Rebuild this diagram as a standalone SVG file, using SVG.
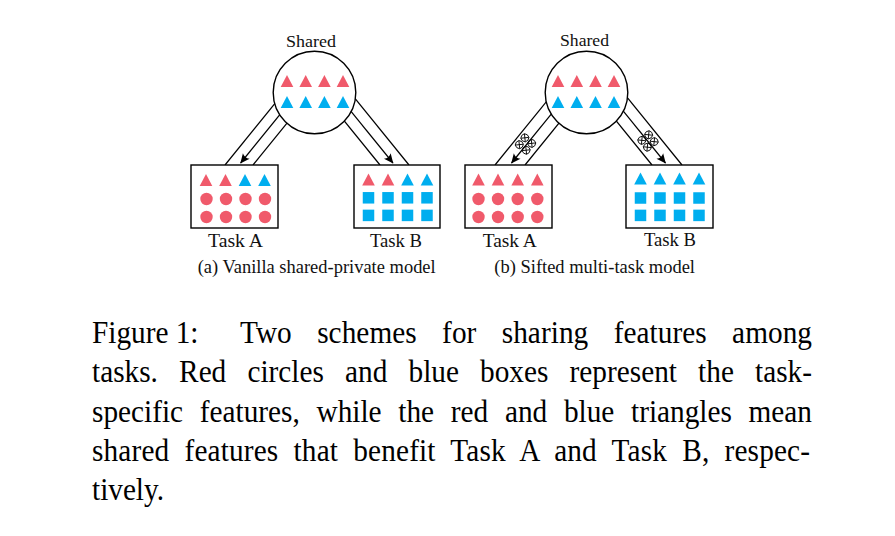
<svg xmlns="http://www.w3.org/2000/svg" xmlns:xlink="http://www.w3.org/1999/xlink" width="895" height="536" viewBox="0 0 895 536">
<style>
.lbl{font-family:"Liberation Serif","DejaVu Serif",serif;fill:#111}
.cap{font-family:"Liberation Serif","Times New Roman",serif;font-size:30.5px;fill:#000}
.node{fill:#fff;stroke:#000;stroke-width:1.4}
.wall{stroke:#000;stroke-width:1.2;fill:none}
.arr{stroke:#000;stroke-width:1.2;fill:none;marker-end:url(#ah)}
.r{fill:#F05A6B}
.b{fill:#00AEEF}
</style>
<defs>
<marker id="ah" viewBox="-10 -5 11 10" refX="0" refY="0" markerWidth="11" markerHeight="10" orient="auto" markerUnits="userSpaceOnUse">
<path d="M0.5,0 L-9,-4.3 Q-6,0 -9,4.3 Z" fill="#000"/>
</marker>
<path id="tri" d="M0,-6 L6.3,6 L-6.3,6 Z"/>
<rect id="sq" x="-5.75" y="-5.75" width="11.5" height="11.5"/>
<circle id="dot" r="6.2"/>
<g id="ox">
<circle r="3.9" fill="none" stroke="#000" stroke-width="0.85"/>
<path d="M-2.8,-2.8 L2.8,2.8 M-2.8,2.8 L2.8,-2.8" fill="none" stroke="#000" stroke-width="0.85"/>
</g>
<g id="sift">
<use xlink:href="#ox" x="-4.4" y="-4.4"/>
<use xlink:href="#ox" x="4.4" y="-4.4"/>
<use xlink:href="#ox" x="-4.4" y="4.4"/>
<use xlink:href="#ox" x="4.4" y="4.4"/>
</g>
</defs>

<g id="connectors">
<!-- (a) left -->
<line class="wall" x1="225" y1="165" x2="281.7" y2="95.1"/>
<line class="wall" x1="253" y1="165" x2="309.7" y2="95.1"/>
<line class="arr" x1="289.4" y1="102.8" x2="240.6" y2="163"/>
<!-- (a) right -->
<line class="wall" x1="380" y1="165" x2="323.3" y2="95.1"/>
<line class="wall" x1="409" y1="165" x2="352.3" y2="95.1"/>
<line class="arr" x1="344.1" y1="102.8" x2="393" y2="163"/>
<!-- (b) left -->
<line class="wall" x1="495" y1="165" x2="551.7" y2="95.1"/>
<line class="wall" x1="525" y1="165" x2="581.7" y2="95.1"/>
<line class="arr" x1="560.4" y1="102.8" x2="511.5" y2="163"/>
<use xlink:href="#sift" transform="translate(525.5,144) rotate(-51)"/>
<!-- (b) right -->
<line class="wall" x1="652" y1="165" x2="595.3" y2="95.1"/>
<line class="wall" x1="682" y1="165" x2="625.3" y2="95.1"/>
<line class="arr" x1="616.6" y1="102.8" x2="665.5" y2="163"/>
<use xlink:href="#sift" transform="translate(648,141) rotate(51)"/>
</g>

<g id="shared-a">
<circle class="node" cx="314.5" cy="92.5" r="41.3"/>
<use xlink:href="#tri" class="r" x="287" y="81"/>
<use xlink:href="#tri" class="r" x="305.7" y="81"/>
<use xlink:href="#tri" class="r" x="324.4" y="81"/>
<use xlink:href="#tri" class="r" x="343" y="81"/>
<use xlink:href="#tri" class="b" x="287" y="102"/>
<use xlink:href="#tri" class="b" x="305.7" y="102"/>
<use xlink:href="#tri" class="b" x="324.4" y="102"/>
<use xlink:href="#tri" class="b" x="343" y="102"/>
<text class="lbl" x="311" y="46.5" font-size="17" text-anchor="middle" textLength="50" lengthAdjust="spacingAndGlyphs">Shared</text>
</g>

<g id="taskA-a">
<rect class="node" x="191" y="165" width="87" height="63"/>
<use xlink:href="#tri" class="r" x="206" y="180"/>
<use xlink:href="#tri" class="r" x="225.5" y="180"/>
<use xlink:href="#tri" class="b" x="245" y="180"/>
<use xlink:href="#tri" class="b" x="264.5" y="180"/>
<use xlink:href="#dot" class="r" x="206.5" y="199"/>
<use xlink:href="#dot" class="r" x="226" y="199"/>
<use xlink:href="#dot" class="r" x="245.5" y="199"/>
<use xlink:href="#dot" class="r" x="265" y="199"/>
<use xlink:href="#dot" class="r" x="206.5" y="217"/>
<use xlink:href="#dot" class="r" x="226" y="217"/>
<use xlink:href="#dot" class="r" x="245.5" y="217"/>
<use xlink:href="#dot" class="r" x="265" y="217"/>
<text class="lbl" x="235.5" y="246.7" font-size="18.5" text-anchor="middle" textLength="55" lengthAdjust="spacingAndGlyphs">Task A</text>
</g>

<g id="taskB-a">
<rect class="node" x="354" y="165" width="86" height="63"/>
<use xlink:href="#tri" class="r" x="368.5" y="179.5"/>
<use xlink:href="#tri" class="r" x="388" y="179.5"/>
<use xlink:href="#tri" class="b" x="407.5" y="179.5"/>
<use xlink:href="#tri" class="b" x="427" y="179.5"/>
<use xlink:href="#sq" class="b" x="368.5" y="197.8"/>
<use xlink:href="#sq" class="b" x="388" y="197.8"/>
<use xlink:href="#sq" class="b" x="407.5" y="197.8"/>
<use xlink:href="#sq" class="b" x="427" y="197.8"/>
<use xlink:href="#sq" class="b" x="368.5" y="215.4"/>
<use xlink:href="#sq" class="b" x="388" y="215.4"/>
<use xlink:href="#sq" class="b" x="407.5" y="215.4"/>
<use xlink:href="#sq" class="b" x="427" y="215.4"/>
<text class="lbl" x="396" y="246.7" font-size="18.5" text-anchor="middle" textLength="52" lengthAdjust="spacingAndGlyphs">Task B</text>
</g>

<g id="shared-b">
<circle class="node" cx="586.5" cy="92.5" r="41.3"/>
<use xlink:href="#tri" class="r" x="558" y="81"/>
<use xlink:href="#tri" class="r" x="576.8" y="81"/>
<use xlink:href="#tri" class="r" x="595.5" y="81"/>
<use xlink:href="#tri" class="r" x="614" y="81"/>
<use xlink:href="#tri" class="b" x="558" y="102"/>
<use xlink:href="#tri" class="b" x="576.8" y="102"/>
<use xlink:href="#tri" class="b" x="595.5" y="102"/>
<use xlink:href="#tri" class="b" x="614" y="102"/>
<text class="lbl" x="584.5" y="46" font-size="17" text-anchor="middle" textLength="49" lengthAdjust="spacingAndGlyphs">Shared</text>
</g>

<g id="taskA-b">
<rect class="node" x="465" y="165" width="87" height="63"/>
<use xlink:href="#tri" class="r" x="478.5" y="179.5"/>
<use xlink:href="#tri" class="r" x="498" y="179.5"/>
<use xlink:href="#tri" class="r" x="517.7" y="179.5"/>
<use xlink:href="#tri" class="r" x="537.3" y="179.5"/>
<use xlink:href="#dot" class="r" x="478.5" y="199"/>
<use xlink:href="#dot" class="r" x="498" y="199"/>
<use xlink:href="#dot" class="r" x="517.7" y="199"/>
<use xlink:href="#dot" class="r" x="537.3" y="199"/>
<use xlink:href="#dot" class="r" x="478.5" y="217"/>
<use xlink:href="#dot" class="r" x="498" y="217"/>
<use xlink:href="#dot" class="r" x="517.7" y="217"/>
<use xlink:href="#dot" class="r" x="537.3" y="217"/>
<text class="lbl" x="509.7" y="246.7" font-size="18.5" text-anchor="middle" textLength="54" lengthAdjust="spacingAndGlyphs">Task A</text>
</g>

<g id="taskB-b">
<rect class="node" x="626" y="165" width="87" height="63"/>
<use xlink:href="#tri" class="b" x="640.5" y="178.5"/>
<use xlink:href="#tri" class="b" x="660" y="178.5"/>
<use xlink:href="#tri" class="b" x="679.5" y="178.5"/>
<use xlink:href="#tri" class="b" x="699" y="178.5"/>
<use xlink:href="#sq" class="b" x="640.5" y="198"/>
<use xlink:href="#sq" class="b" x="660" y="198"/>
<use xlink:href="#sq" class="b" x="679.5" y="198"/>
<use xlink:href="#sq" class="b" x="699" y="198"/>
<use xlink:href="#sq" class="b" x="640.5" y="215.4"/>
<use xlink:href="#sq" class="b" x="660" y="215.4"/>
<use xlink:href="#sq" class="b" x="679.5" y="215.4"/>
<use xlink:href="#sq" class="b" x="699" y="215.4"/>
<text class="lbl" x="670" y="245.5" font-size="18.5" text-anchor="middle" textLength="52" lengthAdjust="spacingAndGlyphs">Task B</text>
</g>

<g id="subcaptions">
<text class="lbl" x="197.7" y="273" font-size="18" textLength="238" lengthAdjust="spacingAndGlyphs">(a) Vanilla shared-private model</text>
<text class="lbl" x="494.3" y="273" font-size="18" textLength="200.7" lengthAdjust="spacingAndGlyphs">(b) Sifted multi-task model</text>
</g>

<g id="caption" transform="translate(92,0) scale(0.96,1)">
<text class="cap" x="0" y="343">Figure 1:</text>
<text class="cap" x="154.2" y="343" style="word-spacing:18.7px" textLength="595.8" lengthAdjust="spacing">Two schemes for sharing features among</text>
<text class="cap" x="0" y="382.5" style="word-spacing:14.4px" textLength="750" lengthAdjust="spacing">tasks. Red circles and blue boxes represent the task-</text>
<text class="cap" x="0" y="421.8" style="word-spacing:9.8px" textLength="750" lengthAdjust="spacing">specific features, while the red and blue triangles mean</text>
<text class="cap" x="0" y="461" style="word-spacing:8px" textLength="747.9" lengthAdjust="spacing">shared features that benefit Task A and Task B, respec-</text>
<text class="cap" x="0" y="500">tively.</text>
</g>
</svg>
